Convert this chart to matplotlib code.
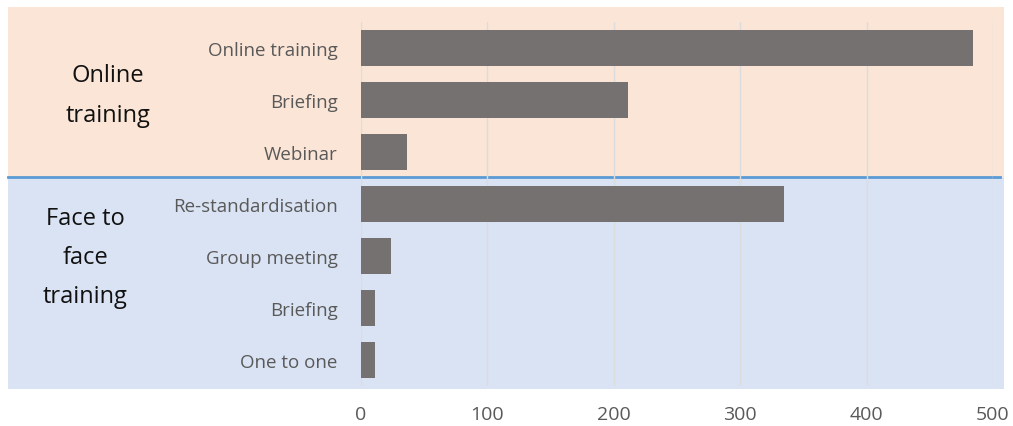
import matplotlib.pyplot as plt
from matplotlib.patches import Rectangle
from matplotlib.lines import Line2D

plt.rcParams["font.family"] = ["Open Sans", "DejaVu Sans"]

categories = ["Online training", "Briefing", "Webinar",
              "Re-standardisation", "Group meeting", "Briefing", "One to one"]
values = [484, 211, 36, 335, 24, 11, 11]
groups = ["Online\ntraining", "Face to\nface\ntraining"]
x_ticks = [0, 100, 200, 300, 400, 500]

W, H = 1013, 427
fig = plt.figure(figsize=(W / 100, H / 100), dpi=100)

# background bands (pixel coords -> figure fraction)
def band(y0, y1, color):
    fig.patches.append(Rectangle((8 / W, 1 - y1 / H), (1004 - 8) / W, (y1 - y0) / H,
                                 transform=fig.transFigure, facecolor=color,
                                 edgecolor="none", zorder=0))

band(8, 178, "#fbe5d6")
band(178, 390, "#dae3f3")
fig.lines.append(Line2D([8 / W, 1000 / W], [1 - 178 / H, 1 - 178 / H],
                        transform=fig.transFigure, color="#5b9bd5", lw=2, zorder=1))

ax = fig.add_axes([361 / W, 1 - 387 / H, (993 - 361) / W, (387 - 23) / H])
ax.set_zorder(2)
ax.patch.set_alpha(0)
ypos = list(range(len(categories)))
ax.barh(ypos, values, height=0.7, color="#767171", zorder=3)
ax.set_ylim(len(categories) - 0.5, -0.5)
ax.set_xlim(0, 500)
ax.set_xticks(x_ticks)
ax.set_yticks(ypos)
ax.set_yticklabels(categories)
ax.tick_params(axis="y", length=0, pad=17, labelsize=13.5, labelcolor="#595959")
ax.tick_params(axis="x", length=0, pad=14, labelsize=14, labelcolor="#595959")
ax.grid(axis="x", color="#dcdcdc", lw=1, zorder=1)
for s in ax.spines.values():
    s.set_visible(False)

fig.text(108 / W, 1 - 96 / H, groups[0], ha="center", va="center",
         fontsize=17, linespacing=1.85, color="#111111")
fig.text(85 / W, 1 - 258 / H, groups[1], ha="center", va="center",
         fontsize=17, linespacing=1.85, color="#111111")

fig.savefig("out.png", dpi=100)
